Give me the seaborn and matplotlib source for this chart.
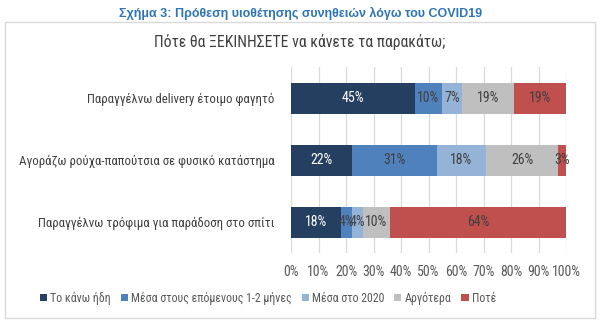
import matplotlib
matplotlib.use("Agg")
import matplotlib.pyplot as plt
import seaborn as sns
import numpy as np
from matplotlib.patches import Rectangle, Patch

# ---- data ----
categories = [
    "Παραγγέλνω delivery έτοιμο φαγητό",
    "Αγοράζω ρούχα-παπούτσια σε φυσικό κατάστημα",
    "Παραγγέλνω τρόφιμα για παράδοση στο σπίτι",
]
series_names = ["Το κάνω ήδη", "Μέσα στους επόμενους 1-2 μήνες", "Μέσα στο 2020", "Αργότερα", "Ποτέ"]
already = [45, 22, 18]
next_months = [10, 31, 4]
in_2020 = [7, 18, 4]
later = [19, 26, 10]
never = [19, 3, 64]
x_ticks = [0, 10, 20, 30, 40, 50, 60, 70, 80, 90, 100]

colors = ["#243F60", "#4F81BD", "#95B3D7", "#BFBFBF", "#C0504D"]
text_colors = ["white", "#404040", "#404040", "#404040", "#404040"]

sns.set_theme(style="white")
plt.rcParams["font.family"] = ["Roboto Condensed", "DejaVu Sans"]

W, H = 600, 323
fig = plt.figure(figsize=(6, 3.23), dpi=100)

# outer frame
fig.patches.append(Rectangle((5 / W, 1 - 318 / H), 590 / W, 296 / H, transform=fig.transFigure,
                             fill=False, edgecolor="#D9D9D9", linewidth=1))

ax = fig.add_axes([291 / W, 1 - 253 / H, 275 / W, 186 / H])

all_series = [already, next_months, in_2020, later, never]
cum = np.cumsum(np.array(all_series), axis=0)
for i in reversed(range(len(all_series))):
    sns.barplot(x=cum[i], y=categories, color=colors[i], orient="h", width=0.5,
                saturation=1, linewidth=0, ax=ax, zorder=3)

# value labels
for i, vals in enumerate(all_series):
    for j, v in enumerate(vals):
        center = cum[i][j] - v / 2
        ax.text(center, j, f"{v}%", ha="center", va="center", fontsize=10,
                color=text_colors[i], zorder=5)

ax.set_xlim(0, 100)
ax.set_xticks(x_ticks)
ax.set_xticklabels([f"{t}%" for t in x_ticks], fontsize=10, color="#595959")
ax.tick_params(axis="x", length=0, pad=9)
ax.tick_params(axis="y", length=0, pad=12, labelsize=9.3, labelcolor="#404040")
ax.set_xlabel("")
ax.set_ylabel("")
ax.grid(axis="x", color="#D9D9D9", linewidth=0.9, zorder=0)
ax.set_axisbelow(True)
for s in ax.spines.values():
    s.set_visible(False)

# titles
fig.text(301 / W, 1 - 13 / H, "Σχήμα 3: Πρόθεση υιοθέτησης συνηθειών λόγω του COVID19",
         ha="center", va="center", fontsize=9, fontweight="bold", color="#2E75B6",
         family=["Liberation Sans", "DejaVu Sans"])
fig.text(300 / W, 1 - 42 / H, "Πότε θα ΞΕΚΙΝΗΣΕΤΕ να κάνετε τα παρακάτω;",
         ha="center", va="center", fontsize=11.3, color="#404040")

handles = [Patch(facecolor=c, edgecolor="none") for c in colors]
fig.legend(handles, series_names, loc="center", bbox_to_anchor=(268 / W, 1 - 298 / H),
           ncol=5, frameon=False, fontsize=8.6, handlelength=0.6, handleheight=0.6,
           handletextpad=0.3, columnspacing=0.8, labelcolor="#595959")

fig.savefig("out.png", dpi=100)
